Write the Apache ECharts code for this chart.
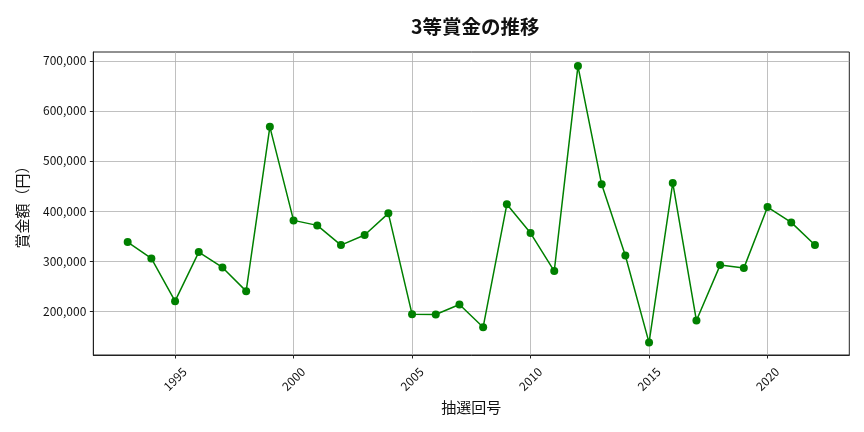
<!DOCTYPE html>
<html><head><meta charset="utf-8">
<script src="https://cdn.jsdelivr.net/npm/echarts@6/dist/echarts.min.js"></script>
<style>html,body{margin:0;padding:0;background:#fff}#c{width:864px;height:432px}</style>
</head><body><div id="c"></div>
<script>
const years = [1993,1994,1995,1996,1997,1998,1999,2000,2001,2002,2003,2004,2005,2006,2007,2008,2009,2010,2011,2012,2013,2014,2015,2016,2017,2018,2019,2020,2021,2022];
const prizes = [338000,305300,220000,318000,287300,240000,568000,381300,371300,332000,352000,395300,194000,193300,213300,168000,413300,356000,280000,689300,453300,311300,137300,456000,181300,292000,286000,408000,377300,332000];
const xTicks = [1995,2000,2005,2010,2015,2020];
const yTicks = [200000,300000,400000,500000,600000,700000];
const titleText = '3等賞金の推移';
const xName = '抽選回号';
const yName = '賞金額（円）';

const font = 'Noto Sans CJK JP';
function fmt(v){ return String(Math.round(v)).replace(/\B(?=(\d{3})+(?!\d))/g, ','); }

const chart = echarts.init(document.getElementById('c'));
chart.setOption({
  animation: false,
  backgroundColor: '#fff',
  title: { text: titleText, left: 406, top: 12,
    textStyle: { fontFamily: font, fontSize: 19.5, fontWeight: 'bold', color: '#111' } },
  grid: { left: 93.3, right: 14.7, top: 52, bottom: 77, show: true, borderColor: '#222', borderWidth: 1, containLabel: false },
  xAxis: {
    type: 'value', min: 1991.55, max: 2023.45,
    name: xName, nameLocation: 'middle', nameGap: 45, nameMoveOverlap: false,
    nameTextStyle: { fontFamily: font, fontSize: 15, color: '#111' },
    axisLine: { show: true, onZero: false, lineStyle: { color: '#222', width: 1 } },
    axisTick: { show: true, length: 3.5, customValues: xTicks, lineStyle: { color: '#222' } },
    axisLabel: { customValues: xTicks, rotate: 45, align: 'center', verticalAlign: 'middle', margin: 24,
      fontFamily: font, fontSize: 12, color: '#111', formatter: v => String(v) },
    splitLine: { show: true, lineStyle: { color: '#b0b0b0', width: 0.8 } }
  },
  yAxis: {
    type: 'value', min: 112500, max: 717500,
    name: yName, nameLocation: 'middle', nameGap: 64, nameMoveOverlap: false,
    nameTextStyle: { fontFamily: font, fontSize: 15, color: '#111' },
    axisLine: { show: true, lineStyle: { color: '#222', width: 1 } },
    axisTick: { show: true, length: 3.5, customValues: yTicks, lineStyle: { color: '#222' } },
    axisLabel: { customValues: yTicks, margin: 7, fontFamily: font, fontSize: 12, color: '#111', formatter: v => fmt(v) },
    splitLine: { show: true, lineStyle: { color: '#b0b0b0', width: 0.8 } }
  },
  series: [{
    type: 'line',
    data: years.map((y, i) => [y, prizes[i]]),
    symbol: 'circle', symbolSize: 8,
    lineStyle: { color: '#008000', width: 1.5 },
    itemStyle: { color: '#008000' }
  }]
});
</script></body></html>
